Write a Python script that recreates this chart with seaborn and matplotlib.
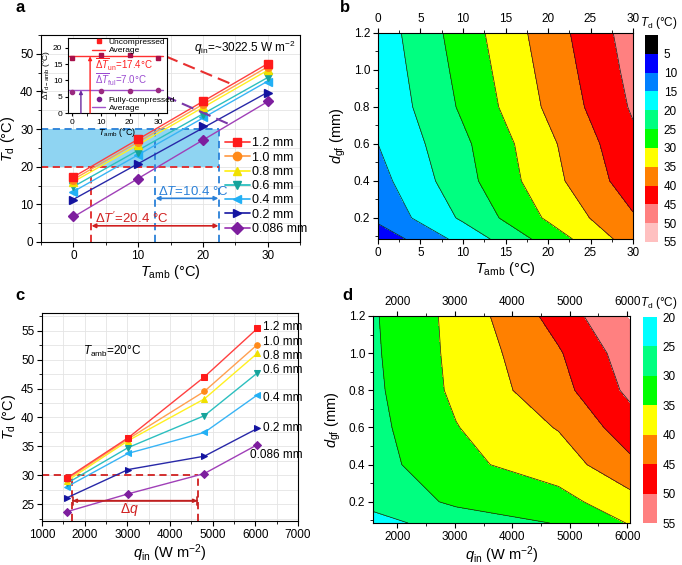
import numpy as np
import matplotlib
matplotlib.use("Agg")
import matplotlib.pyplot as plt
import seaborn as sns
from matplotlib.lines import Line2D
from matplotlib.ticker import MultipleLocator

# ---- data ----
# panel a / b : T_d vs T_amb for each glass-fibre thickness (q_in ~ 3022.5 W m-2)
t_amb = [0, 10, 20, 30]
d_gf = [0.086, 0.2, 0.4, 0.6, 0.8, 1.0, 1.2]
td_tamb = [
    [6.8, 16.7, 27.0, 37.4],   # 0.086 mm
    [11.2, 20.8, 30.7, 39.5],  # 0.2 mm
    [13.3, 23.2, 33.1, 42.6],  # 0.4 mm
    [15.0, 24.0, 33.9, 43.9],  # 0.6 mm
    [16.0, 25.8, 35.8, 45.6],  # 0.8 mm
    [16.6, 26.6, 36.6, 46.5],  # 1.0 mm
    [17.2, 27.4, 37.4, 47.3],  # 1.2 mm
]
# panel c / d : T_d vs q_in at T_amb = 20 C
q_in = [1580, 3022.5, 4805, 6050]
td_qin = [
    [23.7, 26.8, 30.3, 35.3],  # 0.086 mm
    [26.1, 31.0, 33.3, 38.1],  # 0.2 mm
    [28.0, 33.8, 37.4, 43.9],  # 0.4 mm
    [28.6, 34.8, 40.3, 47.7],  # 0.6 mm
    [29.0, 36.0, 43.2, 51.1],  # 0.8 mm
    [29.3, 36.3, 44.5, 52.6],  # 1.0 mm
    [29.5, 36.5, 47.0, 55.4],  # 1.2 mm
]
# inset of a : T_d - T_amb
inset_un = [16.9, 17.7, 17.7, 16.9]
inset_ful = [6.5, 6.8, 6.8, 7.0]
avg_un = 17.4
avg_ful = 7.0

labels = ['0.086 mm', '0.2 mm', '0.4 mm', '0.6 mm', '0.8 mm', '1.0 mm', '1.2 mm']
markers = ['D', '>', '<', 'v', '^', 'o', 's']
mk_colors = ['#7d1e9e', '#1414a0', '#22b0f5', '#16a39b', '#f0e000', '#ff8a1a', '#ff1a1a']
ln_colors = ['#a040b8', '#2828a8', '#38b4f5', '#2cbfbf', '#fff020', '#ffa050', '#ff4040']

b_levels = np.arange(0, 60, 5)
b_colors = ['#000000', '#0000ff', '#0080ff', '#00ffff', '#00ff80', '#00ff00',
            '#ffff00', '#ff8000', '#ff0000', '#ff8080', '#ffc0c0']
d_levels = np.arange(20, 60, 5)
d_colors = ['#00ffff', '#00ff80', '#00ff00', '#ffff00', '#ff8000', '#ff0000', '#ff8080']

sns.set_theme(style='ticks', rc={'axes.edgecolor': 'black', 'text.color': 'black',
                                 'axes.labelcolor': 'black', 'xtick.color': 'black',
                                 'ytick.color': 'black'})
plt.rcParams['font.family'] = ['Liberation Sans', 'DejaVu Sans']
plt.rcParams['mathtext.fontset'] = 'custom'
plt.rcParams['mathtext.rm'] = 'Liberation Sans'
plt.rcParams['mathtext.it'] = 'Liberation Sans:italic'
plt.rcParams['mathtext.bf'] = 'Liberation Sans:bold'
plt.rcParams['axes.linewidth'] = 0.8

W, H = 682, 565
fig = plt.figure(figsize=(W / 100, H / 100), dpi=100)


def box(l, t, r, b):
    return [l / W, 1 - b / H, (r - l) / W, (b - t) / H]


def style(ax, fs=8.5):
    ax.tick_params(which='major', direction='out', length=3.5, width=0.8, labelsize=fs, pad=2)
    ax.tick_params(which='minor', direction='out', length=2, width=0.6)
    for s in ax.spines.values():
        s.set_visible(True)
        s.set_linewidth(0.8)


TD = r'$T_{\mathrm{d}}$ (°C)'
TAMB = r'$T_{\mathrm{amb}}$ (°C)'
DGF = r'$d_{\mathrm{gf}}$ (mm)'
QIN = r'$q_{\mathrm{in}}$ (W m$^{-2}$)'

# ================= panel a =================
ax = fig.add_axes(box(41, 35, 300, 242))
style(ax)
ax.set_xlim(-5, 35)
ax.set_ylim(0, 55)
ax.xaxis.set_major_locator(MultipleLocator(10))
ax.xaxis.set_minor_locator(MultipleLocator(5))
ax.yaxis.set_major_locator(MultipleLocator(10))
ax.yaxis.set_minor_locator(MultipleLocator(5))
ax.grid(True, which='both', color='#e4e4e4', lw=0.6)
ax.set_axisbelow(True)

ax.fill_between([-5, 22.5], 20, 30, color='#8fd4f2', lw=0, zorder=0.6)
blue = '#2a80d8'
red = '#e02828'
dash = (0, (4, 2.5))
ax.plot([-5, 22.5], [30, 30], color=blue, ls=dash, lw=1.3, zorder=1)
ax.plot([12.6, 12.6], [0, 30], color=blue, ls=dash, lw=1.3, zorder=1)
ax.plot([22.5, 22.5], [0, 30], color=blue, ls=dash, lw=1.3, zorder=1)
ax.plot([-5, 22.5], [20, 20], color=red, ls=dash, lw=1.3, zorder=1)
ax.plot([2.7, 2.7], [0, 20], color=red, ls=dash, lw=1.3, zorder=1)

for i in range(len(d_gf)):
    sns.regplot(x=t_amb, y=td_tamb[i], ax=ax, scatter=False, ci=None, truncate=True,
                line_kws=dict(color=ln_colors[i], lw=1.0, zorder=2))
    ax.plot(t_amb, td_tamb[i], ls='none', marker=markers[i], ms=5.5,
            color=mk_colors[i], mec=mk_colors[i], zorder=3)
ax.set_xlabel(TAMB, fontsize=10.5, labelpad=1)
ax.set_ylabel(TD, fontsize=10.5, labelpad=2)

ax.annotate('', xy=(22.4, 11.6), xytext=(12.7, 11.6),
            arrowprops=dict(arrowstyle='<|-|>', color=blue, lw=1.2, mutation_scale=6,
                            shrinkA=0, shrinkB=0))
ax.text(13.0, 13.3, r'$\Delta T$=10.4 °C', color=blue, fontsize=9.5, va='center')
ax.annotate('', xy=(22.4, 4.3), xytext=(2.8, 4.3),
            arrowprops=dict(arrowstyle='<|-|>', color='#d02020', lw=1.2, mutation_scale=6,
                            shrinkA=0, shrinkB=0))
ax.text(3.3, 6.4, r"$\Delta T'$=20.4 °C", color='#d02020', fontsize=9.5, va='center')
ax.text(18.6, 51.6, r'$q_{\mathrm{in}}$=~3022.5 W m$^{-2}$', fontsize=8.5, va='center')

# dashed connectors from inset
ax.plot([14.3, 24.1], [49.3, 42.2], color='#e83030', ls=(0, (6, 3)), lw=1.5, zorder=4)
ax.plot([14.1, 24.6], [38.8, 30.9], color='#7a38a8', ls=(0, (6, 3)), lw=1.5, zorder=4)

handles = [Line2D([0], [0], color=ln_colors[i], marker=markers[i], ms=6,
                  mfc=mk_colors[i], mec=mk_colors[i], lw=1.3) for i in range(6, -1, -1)]
ax.legend(handles, labels[::-1], loc='upper left', bbox_to_anchor=(0.71, 0.505),
          frameon=False, fontsize=9, handlelength=2.0, handletextpad=0.2,
          labelspacing=0.18, borderpad=0, borderaxespad=0)

# inset
axi = fig.add_axes(box(68, 38, 167, 113))
style(axi, fs=6)
axi.tick_params(which='major', length=2)
axi.set_xlim(-1.5, 33)
axi.set_ylim(0, 23)
axi.set_xticks([0, 10, 20, 30])
axi.set_yticks([0, 5, 10, 15, 20])
axi.xaxis.set_minor_locator(MultipleLocator(5))
axi.plot([-1.5, 31.5], [avg_un, avg_un], color='#ff3030', lw=1)
axi.plot([-1.5, 31.5], [avg_ful, avg_ful], color='#a050c8', lw=1)
axi.plot(t_amb, inset_un, ls='none', marker='s', ms=3, color='#a8104a')
axi.plot(t_amb, inset_ful, ls='none', marker='o', ms=3, color='#9a2a80')
axi.annotate('', xy=(6.2, avg_un), xytext=(6.2, 0),
             arrowprops=dict(arrowstyle='-|>', color='#ff2020', lw=1, mutation_scale=5,
                             shrinkA=0, shrinkB=0))
axi.annotate('', xy=(3.0, avg_ful), xytext=(3.0, 0),
             arrowprops=dict(arrowstyle='-|>', color='#6a2aa0', lw=1, mutation_scale=5,
                             shrinkA=0, shrinkB=0))
axi.text(7.8, 14.9, r'$\overline{\Delta T}_{\mathrm{un}}$=17.4°C', color='#ff2020',
         fontsize=7, va='center')
axi.text(7.8, 10.1, r'$\overline{\Delta T}_{\mathrm{ful}}$=7.0°C', color='#9a4ad0',
         fontsize=7, va='center')
leg1 = axi.legend([Line2D([0], [0], ls='none', marker='s', ms=3, color='#ff2020'),
                   Line2D([0], [0], color='#ff3030', lw=1)], ['Uncompressed', 'Average'],
                  loc='upper left', bbox_to_anchor=(0.2, 1.05), frameon=False, fontsize=6,
                  handlelength=1.6, handletextpad=0.4, labelspacing=0.05, borderpad=0)
axi.add_artist(leg1)
axi.legend([Line2D([0], [0], ls='none', marker='o', ms=3, color='#7a2090'),
            Line2D([0], [0], color='#a050c8', lw=1)], ['Fully-compressed', 'Average'],
           loc='lower left', bbox_to_anchor=(0.2, -0.04), frameon=False, fontsize=6,
           handlelength=1.6, handletextpad=0.4, labelspacing=0.05, borderpad=0)
axi.set_xlabel(TAMB, fontsize=6.5, labelpad=0)
axi.set_ylabel(r'$\Delta T_{\mathrm{d-amb}}$ (°C)', fontsize=6, labelpad=1)

# ================= panel b =================
axb = fig.add_axes(box(378, 33, 633, 239))
style(axb)
csb = axb.contourf(t_amb, d_gf, td_tamb, levels=b_levels, colors=b_colors)
axb.contour(t_amb, d_gf, td_tamb, levels=b_levels[1:], colors='k', linewidths=0.5)
axb.set_xlim(0, 30)
axb.set_ylim(0.086, 1.2)
axb.xaxis.set_major_locator(MultipleLocator(5))
axb.xaxis.set_minor_locator(MultipleLocator(2.5))
axb.yaxis.set_major_locator(MultipleLocator(0.2))
axb.yaxis.set_minor_locator(MultipleLocator(0.1))
axb.tick_params(which='both', top=True, labeltop=True)
axb.set_xlabel(TAMB, fontsize=10.5, labelpad=1)
axb.set_ylabel(DGF, fontsize=10.5, labelpad=4)
caxb = fig.add_axes(box(645, 35, 658, 242))
cbb = fig.colorbar(csb, cax=caxb)
caxb.invert_yaxis()
cbb.outline.set_visible(False)
cbb.set_ticks(b_levels[1:])
caxb.tick_params(length=0, labelsize=8.5, pad=4)
fig.text(640 / W, 1 - 23 / H, TD, fontsize=8.5, va='center')

# ================= panel c =================
axc = fig.add_axes(box(42, 313, 298, 521))
style(axc)
axc.set_xlim(1000, 7000)
axc.set_ylim(22.1, 58.05)
axc.xaxis.set_major_locator(MultipleLocator(1000))
axc.xaxis.set_minor_locator(MultipleLocator(500))
axc.yaxis.set_major_locator(MultipleLocator(5))
axc.yaxis.set_minor_locator(MultipleLocator(2.5))
axc.grid(True, which='both', color='#e4e4e4', lw=0.6)
axc.set_axisbelow(True)
label_dy = [-1.8, 0.0, -0.6, 0.5, -0.5, 0.5, 0.3]
for i in range(len(d_gf)):
    sns.lineplot(x=q_in, y=td_qin[i], ax=axc, color=ln_colors[i], lw=1.0,
                 marker=markers[i], markersize=4, markeredgecolor=mk_colors[i],
                 markerfacecolor=mk_colors[i], zorder=3)
    x0 = 5870 if i == 0 else 6180
    axc.text(x0, td_qin[i][-1] + label_dy[i], labels[i], fontsize=8.5, va='center',
             clip_on=False)
axc.plot([1000, 4660], [30, 30], color='#d02020', ls=dash, lw=1.3)
axc.plot([1700, 1700], [22.1, 30], color='#d02020', ls=dash, lw=1.3)
axc.plot([4660, 4660], [22.1, 30], color='#d02020', ls=dash, lw=1.3)
axc.annotate('', xy=(4640, 25.6), xytext=(1720, 25.6),
             arrowprops=dict(arrowstyle='|-|', color='#c02020', lw=1.2, mutation_scale=3,
                             shrinkA=0, shrinkB=0))
axc.annotate('', xy=(4640, 25.6), xytext=(1720, 25.6),
             arrowprops=dict(arrowstyle='<|-|>', color='#c02020', lw=1.2, mutation_scale=5,
                             shrinkA=0, shrinkB=0))
axc.text(3050, 24.1, r'$\Delta q$', color='#d02020', fontsize=10, ha='center', va='center')
axc.text(1950, 51.4, r'$T_{\mathrm{amb}}$=20°C', fontsize=8.5, va='center')
axc.set_xlabel(QIN, fontsize=10.5, labelpad=1)
axc.set_ylabel(TD, fontsize=10.5, labelpad=2)

# ================= panel d =================
axd = fig.add_axes(box(373, 316, 630, 523))
style(axd)
csd = axd.contourf(q_in, d_gf, td_qin, levels=d_levels, colors=d_colors)
axd.contour(q_in, d_gf, td_qin, levels=d_levels[1:-1], colors='k', linewidths=0.5)
axd.set_xlim(1575, 6050)
axd.set_ylim(0.086, 1.2)
axd.xaxis.set_major_locator(MultipleLocator(1000))
axd.xaxis.set_minor_locator(MultipleLocator(500))
axd.yaxis.set_major_locator(MultipleLocator(0.2))
axd.yaxis.set_minor_locator(MultipleLocator(0.1))
axd.tick_params(which='both', top=True, labeltop=True)
axd.set_xlabel(QIN, fontsize=10.5, labelpad=1)
axd.set_ylabel(DGF, fontsize=10.5, labelpad=4)
caxd = fig.add_axes(box(643, 317, 657, 523))
cbd = fig.colorbar(csd, cax=caxd)
caxd.invert_yaxis()
cbd.outline.set_visible(False)
cbd.set_ticks(d_levels)
caxd.tick_params(length=0, labelsize=8.5, pad=4)
fig.text(640 / W, 1 - 303 / H, TD, fontsize=8.5, va='center')

# panel letters
for lt, (px, py) in zip('abcd', [(20, 8), (345, 8), (20, 295), (347, 295)]):
    fig.text(px / W, 1 - py / H, lt, fontsize=12, fontweight='bold', va='center', ha='center')

fig.savefig('out.png', dpi=100)
